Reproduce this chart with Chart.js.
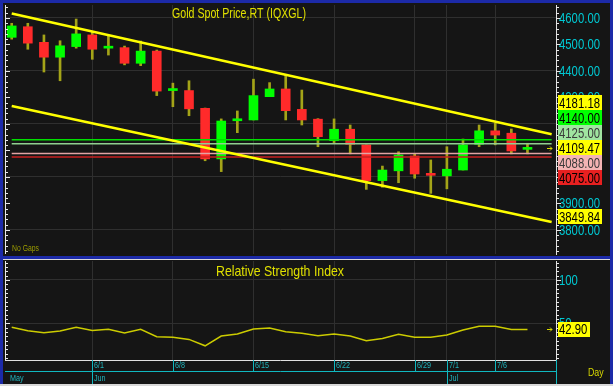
<!DOCTYPE html>
<html>
<head>
<meta charset="utf-8">
<script src="https://cdn.jsdelivr.net/npm/chart.js@4.4.1/dist/chart.umd.min.js"></script>
<style>
    html, body { margin: 0; padding: 0; }
    body { width: 613px; height: 386px; background: #1c2aa8; position: relative; overflow: hidden; }
    canvas { position: absolute; left: 3px; }
    #price { top: 3px; }
    #rsi { top: 260px; }
    #sep { position: absolute; left: 3px; width: 607px; top: 259px; height: 1px; background: #d8d8d8; }
    #foot { position: absolute; left: 0; width: 613px; top: 384px; height: 2px; background: #d8d8d8; }
</style>
</head>
<body>
<canvas id="price" width="607" height="253"></canvas>
<div id="sep"></div>
<canvas id="rsi" width="607" height="124"></canvas>
<div id="foot"></div>
<script>
"use strict";

// Daily bars, 5/25 - 7/8
const days = ['5/25', '5/26', '5/27', '5/28', '5/29',
    '6/1', '6/2', '6/3', '6/4', '6/5', '6/8', '6/9', '6/10', '6/11', '6/12',
    '6/15', '6/16', '6/17', '6/18', '6/19', '6/22', '6/23', '6/24', '6/25', '6/26',
    '6/29', '6/30', '7/1', '7/2', '7/3', '7/6', '7/7', '7/8'];
const open = [4527, 4567, 4508, 4452, 4492, 4536, 4486, 4488, 4429, 4475, 4326, 4326, 4259, 4068, 4212,
    4215, 4303, 4332, 4255, 4218, 4137, 4180, 4121, 3986, 4023, 4079, 4010, 4004, 4026, 4123, 4174, 4165, 4104];
const high = [4580, 4580, 4536, 4514, 4596, 4548, 4532, 4494, 4513, 4479, 4354, 4363, 4260, 4219, 4249,
    4369, 4356, 4385, 4328, 4220, 4219, 4196, 4121, 4041, 4095, 4089, 4064, 4114, 4143, 4196, 4203, 4181, 4127];
const low = [4520, 4482, 4396, 4363, 4486, 4444, 4460, 4423, 4420, 4307, 4265, 4231, 4061, 4020, 4167,
    4215, 4303, 4215, 4196, 4114, 4129, 4087, 3953, 3961, 3978, 3995, 3938, 3955, 4026, 4114, 4121, 4087, 4087];
const close = [4570, 4505, 4452, 4495, 4540, 4482, 4488, 4429, 4475, 4324, 4327, 4257, 4068, 4211, 4214,
    4307, 4332, 4250, 4215, 4152, 4180, 4123, 3986, 4026, 4083, 4011, 4006, 4029, 4121, 4174, 4158, 4098, 4109.47];
const rsi = [45.3, 41.4, 39, 41, 45.3, 41.8, 43, 38.7, 43, 34.4, 34, 31.4, 24, 35.2, 37.6,
    43.4, 44.5, 40.3, 38.4, 35.6, 37.6, 35.2, 29.8, 32.5, 37.2, 34, 34, 36.4, 42.2, 46.5, 46.5, 42.9, 42.9];

const priceTicks = [3800, 3900, 4000, 4100, 4200, 4300, 4400, 4500, 4600];
const rsiTicks = [50, 100];
const dateTicks = ['6/1', '6/8', '6/15', '6/22', '6/29', '7/1', '7/6'];
const months = ['May', 'Jun', 'Jul'];
const monthStarts = ['5/25', '6/1', '7/1'];

// trend channel: value at first bar and at right edge
const trendX = [0, 33.5];
const upperTrend = [4617, 4161];
const lowerTrend = [4268, 3830];
const levels = [4140, 4125, 4088, 4075];

// right axis markers
const markerValues = [4181.18, 4140, 4125, 4109.47, 4088, 4075, 3849.84];
const rsiLast = 42.90;

const markerStyles = [
    { bg: '#ffff00', fg: '#000000' },
    { bg: '#00ff00', fg: '#000000' },
    { bg: '#a0e4a0', fg: '#3a3a3a' },
    { bg: '#ffff00', fg: '#000000' },
    { bg: '#f4b4b4', fg: '#3a3a3a' },
    { bg: '#e82020', fg: '#000000' },
    { bg: '#ffff00', fg: '#000000' }
];
const levelColors = ['#00e000', '#90d090', '#e4a4a4', '#c82020'];

const bg = '#151515';
const gridColor = '#2f2f2f';
const cyan = '#00c8d2';
const sans = '"Liberation Sans", Arial, sans-serif';
const xMin = -0.416, xMax = 33.77;

window.onload = init;

function init() {
    createPriceChart();
    createRsiChart();
}

const idx = d => days.indexOf(d);

function xScale() {
    return {
        type: 'linear',
        min: xMin,
        max: xMax,
        offset: false,
        afterBuildTicks: s => { s.ticks = dateTicks.map(d => ({ value: idx(d) })); },
        afterFit: s => { s.height = 0; },
        ticks: { display: false },
        grid: { color: gridColor, drawTicks: false, offset: false },
        border: { display: false }
    };
}

// labels are drawn by the plugins so the axis adds no padding
function yScale(min, max, ticks, gridFn) {
    return {
        position: 'right',
        min: min,
        max: max,
        afterBuildTicks: s => { s.ticks = ticks.map(v => ({ value: v })); },
        afterFit: s => { s.width = 54; },
        grid: { color: gridFn, drawTicks: false },
        border: { color: '#e0e0e0', width: 1 },
        ticks: { display: false }
    };
}

// condensed axis text
function narrowText(ctx, text, x, y, color, size, squeeze) {
    ctx.save();
    ctx.fillStyle = color;
    ctx.font = size + 'px ' + sans;
    ctx.textAlign = 'left';
    ctx.textBaseline = 'middle';
    ctx.translate(x, y);
    ctx.scale(squeeze, 1);
    ctx.fillText(text, 0, 0);
    ctx.restore();
}

function drawTicks(ctx, scale, a, from, to, step, major) {
    ctx.save();
    ctx.strokeStyle = '#e8e8e8';
    ctx.lineWidth = 1;
    ctx.beginPath();
    ctx.moveTo(a.left + 0.5, a.top);
    ctx.lineTo(a.left + 0.5, a.bottom);
    for (let v = from; v <= to; v += step) {
        const y = Math.round(scale.getPixelForValue(v)) + 0.5;
        if (y < a.top || y > a.bottom) continue;
        const len = v % major === 0 ? 4 : 2;
        ctx.moveTo(a.left, y); ctx.lineTo(a.left + len + 1, y);
        ctx.moveTo(a.right, y); ctx.lineTo(a.right + len + 1, y);
    }
    ctx.stroke();
    ctx.restore();
}

function drawLabels(ctx, scale, a, ticks, fmt) {
    ticks.forEach(v => narrowText(ctx, fmt(v), a.right + 3, scale.getPixelForValue(v) + 1, cyan, 14, 0.81));
}

function drawBox(ctx, x, yc, w, h, text, style) {
    ctx.fillStyle = style.bg;
    ctx.fillRect(x, Math.round(yc - h / 2), w, h);
    narrowText(ctx, text, x + 1, yc + 1, style.fg, 14, 0.81);
}

function drawArrow(ctx, x, y) {
    ctx.strokeStyle = '#d8d800';
    ctx.lineWidth = 1;
    ctx.beginPath();
    ctx.moveTo(x, y + 0.5); ctx.lineTo(x + 5, y + 0.5);
    ctx.moveTo(x + 3, y - 1.5); ctx.lineTo(x + 5, y + 0.5); ctx.lineTo(x + 3, y + 2.5);
    ctx.stroke();
}

const paintBg = {
    id: 'paintBg',
    beforeDraw(chart) {
        const ctx = chart.ctx;
        ctx.save();
        ctx.fillStyle = bg;
        ctx.fillRect(0, 0, chart.width, chart.height);
        ctx.restore();
    }
};

const priceDecor = {
    id: 'priceDecor',
    afterDraw(chart) {
        const { ctx, chartArea: a } = chart;
        const y = chart.scales.y;
        drawTicks(ctx, y, a, 3720, 4640, 20, 100);
        drawLabels(ctx, y, a, priceTicks, v => v.toFixed(2));
        ctx.save();
        ctx.fillStyle = '#e0e000';
        ctx.font = '15px ' + sans;
        ctx.textAlign = 'center';
        ctx.textBaseline = 'middle';
        ctx.fillText('Gold Spot Price,RT (IQXGL)', 236, 11, 134);
        ctx.fillStyle = '#9c9c00';
        ctx.font = '9px ' + sans;
        ctx.textAlign = 'left';
        ctx.fillText('No Gaps', 9, 246, 27);

        // stacked value markers on the right axis
        const h = 15;
        const anchor = markerValues.indexOf(close[close.length - 1]);
        const ys = markerValues.map(v => y.getPixelForValue(v));
        for (let i = anchor - 1; i >= 0; i--) ys[i] = Math.min(ys[i], ys[i + 1] - h);
        for (let i = anchor + 1; i < ys.length; i++) ys[i] = Math.max(ys[i], ys[i - 1] + h);
        markerValues.forEach((v, i) => drawBox(ctx, a.right + 2, ys[i], 44, h, v.toFixed(2), markerStyles[i]));
        drawArrow(ctx, a.right - 9, Math.round(ys[anchor]));
        ctx.restore();
    }
};

const rsiDecor = {
    id: 'rsiDecor',
    afterDraw(chart) {
        const { ctx, chartArea: a } = chart;
        const y = chart.scales.y;
        const x = chart.scales.x;
        drawTicks(ctx, y, a, 10, 120, 5, 50);
        drawLabels(ctx, y, a, rsiTicks, v => String(v));
        ctx.save();
        ctx.fillStyle = '#e0e000';
        ctx.font = '15px ' + sans;
        ctx.textAlign = 'center';
        ctx.textBaseline = 'middle';
        ctx.fillText('Relative Strength Index', 277, 12, 128);

        const yc = y.getPixelForValue(rsiLast);
        drawBox(ctx, a.right + 2, yc, 32, 15, rsiLast.toFixed(2), { bg: '#ffff00', fg: '#000000' });
        drawArrow(ctx, a.right - 9, Math.round(yc));

        // date axis
        const yMid = a.bottom + 11.5;
        const yBot = chart.height;
        ctx.strokeStyle = '#e0e0e0';
        ctx.beginPath();
        ctx.moveTo(a.left, a.bottom + 0.5); ctx.lineTo(a.right, a.bottom + 0.5);
        ctx.stroke();
        ctx.strokeStyle = '#10b8c0';
        ctx.beginPath();
        ctx.moveTo(a.left, yMid); ctx.lineTo(a.right, yMid);
        ctx.moveTo(a.right + 0.5, a.bottom); ctx.lineTo(a.right + 0.5, yBot);
        dateTicks.forEach(d => {
            const px = Math.round(x.getPixelForValue(idx(d))) + 0.5;
            ctx.moveTo(px, a.bottom); ctx.lineTo(px, yMid);
        });
        monthStarts.forEach((d, i) => {
            if (i === 0) return;
            const px = Math.round(x.getPixelForValue(idx(d))) + 0.5;
            ctx.moveTo(px, yMid); ctx.lineTo(px, yBot);
        });
        ctx.stroke();
        ctx.textAlign = 'left';
        dateTicks.forEach(d => {
            const px = Math.round(x.getPixelForValue(idx(d)));
            narrowText(ctx, d, px + 2, a.bottom + 6, '#20b4bc', 9, 0.8);
        });
        monthStarts.forEach((d, i) => {
            const px = Math.round(x.getPixelForValue(idx(d)));
            narrowText(ctx, months[i], i === 0 ? px - 2 : px + 2, yMid + 7, '#20b4bc', 9, 0.8);
        });
        narrowText(ctx, 'Day', a.right + 32, yMid + 1, '#d8d800', 11, 0.8);
        ctx.restore();
    }
};

function createPriceChart() {
    const ctx = document.getElementById('price').getContext('2d');
    const lineSet = (ys, color, width) => ({
        type: 'line',
        data: trendX.map((v, i) => ({ x: v, y: ys[i] })),
        borderColor: color,
        borderWidth: width,
        pointRadius: 0,
        order: 0
    });
    const datasets = [
        lineSet(upperTrend, '#ffff00', 2.5),
        lineSet(lowerTrend, '#ffff00', 2.5)
    ];
    levels.forEach((lv, i) => datasets.push(lineSet([lv, lv], levelColors[i], 1.5)));
    datasets.push({
        type: 'bar',
        data: days.map((d, i) => ({ x: i, y: [open[i], close[i]] })),
        backgroundColor: days.map((d, i) => close[i] >= open[i] ? '#00ff00' : '#ff2a2a'),
        grouped: false,
        maxBarThickness: 9,
        barPercentage: 1,
        categoryPercentage: 1,
        minBarLength: 2,
        order: 1
    });
    datasets.push({
        type: 'bar',
        data: days.map((d, i) => ({ x: i, y: [low[i], high[i]] })),
        backgroundColor: '#a4a418',
        grouped: false,
        maxBarThickness: 2,
        barPercentage: 1,
        categoryPercentage: 1,
        order: 2
    });

    new Chart(ctx, {
        type: 'bar',
        data: { datasets: datasets },
        options: {
            responsive: false,
            animation: false,
            events: [],
            layout: { padding: { left: 2, top: 2, right: 0, bottom: 2 } },
            scales: {
                x: xScale(),
                y: yScale(3709, 4649, priceTicks,
                    c => (c.tick && c.tick.value % 200 === 0) ? gridColor : 'transparent')
            },
            plugins: { legend: { display: false }, tooltip: { enabled: false } }
        },
        plugins: [paintBg, priceDecor]
    });
}

function createRsiChart() {
    const ctx = document.getElementById('rsi').getContext('2d');
    new Chart(ctx, {
        type: 'line',
        data: {
            datasets: [{
                data: rsi.map((v, i) => ({ x: i, y: v })),
                borderColor: '#cccc00',
                borderWidth: 1.5,
                pointRadius: 0
            }]
        },
        options: {
            responsive: false,
            animation: false,
            events: [],
            layout: { padding: { left: 2, top: 1, right: 0, bottom: 24 } },
            scales: {
                x: xScale(),
                y: yScale(7.6, 121.9, rsiTicks, gridColor)
            },
            plugins: { legend: { display: false }, tooltip: { enabled: false } }
        },
        plugins: [paintBg, rsiDecor]
    });
}
</script>
</body>
</html>
